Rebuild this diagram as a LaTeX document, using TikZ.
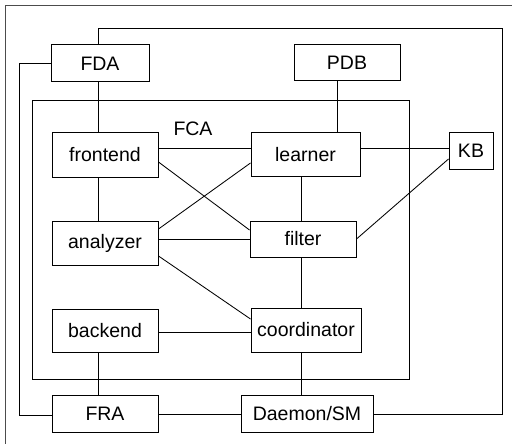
\documentclass[tikz,border=0pt]{standalone}
\usepackage{fontspec}
\setmainfont{Liberation Sans}
\usetikzlibrary{calc}
\begin{document}
\begin{tikzpicture}[x=1pt,y=-1pt,
  lbl/.style={font=\fontsize{19.5}{22}\selectfont},
  box/.style={draw,line width=1pt,inner sep=0pt,lbl},
  link/.style={line width=0.85pt},
  frame/.style={line width=0.6pt,draw=black!70}]
\useasboundingbox (0,0) rectangle (512,444);
% partial outer frame
\draw[frame] (5,444) -- (5,5) -- (512,5);
% FCA container
\draw[line width=0.85pt] (32,100) rectangle (409,379);
\node[lbl] (fcalabel) at (193,129) {FCA};
% components
\node[box,minimum width=98pt,minimum height=37pt] (FDA) at (100,63.5) {FDA};
\node[box,minimum width=106pt,minimum height=36pt] (PDB) at (347,63) {PDB};
\node[box,minimum width=106pt,minimum height=44pt] (frontend) at (105,155) {frontend};
\node[box,minimum width=109pt,minimum height=43pt] (learner) at (305.5,154.5) {learner};
\node[box,minimum width=44pt,minimum height=36pt] (KB) at (471,151) {KB};
\node[box,minimum width=106pt,minimum height=44pt] (analyzer) at (105,243) {analyzer};
\node[box,minimum width=106pt,minimum height=36pt] (filter) at (303,239) {filter};
\node[box,minimum width=106pt,minimum height=43pt] (backend) at (105,330.5) {backend};
\node[box,minimum width=110pt,minimum height=44pt] (coordinator) at (306,330) {coordinator};
\node[box,minimum width=106pt,minimum height=37pt] (FRA) at (105,413.5) {FRA};
\node[box,minimum width=132pt,minimum height=37pt] (Daemon) at (307,413.5) {Daemon/SM};
% helper columns and rows
\coordinate (lcol) at (98,0);
\coordinate (rcol) at (301,0);
\coordinate (pcol) at (337,0);
\coordinate (row1) at (0,148);
\coordinate (row2) at (0,239);
\coordinate (row3) at (0,332);
\coordinate (row4) at (0,414);
\coordinate (topy) at (502,28);
\coordinate (leftx) at (19,415);
% vertical links
\draw[link] (FDA.south -| lcol) -- (frontend.north -| lcol);
\draw[link] (frontend.south -| lcol) -- (analyzer.north -| lcol);
\draw[link] (backend.south -| lcol) -- (FRA.north -| lcol);
\draw[link] (PDB.south -| pcol) -- (learner.north -| pcol);
\draw[link] (learner.south -| rcol) -- (filter.north -| rcol);
\draw[link] (filter.south -| rcol) -- (coordinator.north -| rcol);
\draw[link] (coordinator.south -| rcol) -- (Daemon.north -| rcol);
% horizontal links
\draw[link] (frontend.east |- row1) -- (learner.west |- row1);
\draw[link] (learner.east |- row1) -- (KB.west |- row1);
\draw[link] (analyzer.east |- row2) -- (filter.west |- row2);
\draw[link] (backend.east |- row3) -- (coordinator.west |- row3);
\draw[link] (FRA.east |- row4) -- (Daemon.west |- row4);
% diagonal links
\draw[link] ($(frontend.east)+(0,7)$) -- ($(filter.west)+(0,-9)$);
\draw[link] ($(learner.west)+(0,8.5)$) -- ($(analyzer.east)+(0,-14)$);
\draw[link] ($(analyzer.east)+(0,13)$) -- ($(coordinator.west)+(0,-11)$);
\draw[link] (filter.east) -- ($(KB.west)+(0,8)$);
% outer loops
\draw[link] (FDA.north -| lcol) -- (lcol |- topy) -- (topy) -- (topy |- row4) -- (Daemon.east |- row4);
\draw[link] (FDA.west) -- (leftx |- FDA.west) -- (leftx) -- (FRA.west |- leftx);
\end{tikzpicture}
\end{document}
